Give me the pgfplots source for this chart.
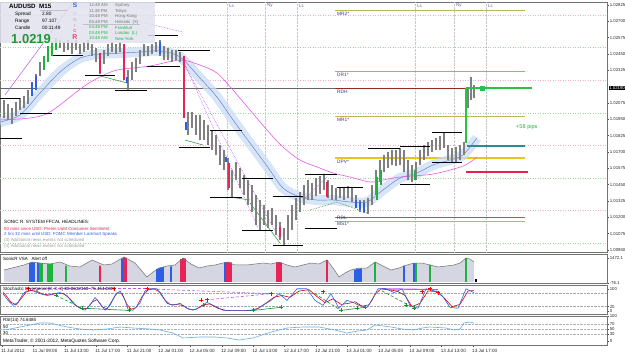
\documentclass[border=0pt]{standalone}
\usepackage{fontspec}
\setmainfont{Liberation Sans}
\usepackage{pgfplots}
\usepackage{pgfplotstable}
\pgfplotsset{compat=1.18}
\newcommand{\fs}[1]{\fontsize{#1}{#1}\selectfont}
\definecolor{mtblue}{RGB}{80,95,200}
\definecolor{bandblue}{RGB}{200,221,243}
\definecolor{mtmag}{RGB}{232,90,232}
\definecolor{olv}{RGB}{190,185,80}
\definecolor{salm}{RGB}{240,135,120}
\definecolor{rdh}{RGB}{140,45,30}
\definecolor{dpv}{RGB}{228,200,20}
\definecolor{rdl}{RGB}{95,95,240}
\definecolor{tealx}{RGB}{40,140,145}
\definecolor{mtred}{RGB}{232,30,75}
\definecolor{mtgreen}{RGB}{40,195,70}
\definecolor{navyx}{RGB}{55,55,125}
\definecolor{purp}{RGB}{185,90,235}
\definecolor{cblue}{RGB}{45,95,230}
\definecolor{cgreen}{RGB}{30,180,60}
\definecolor{cred}{RGB}{232,35,85}
\definecolor{gpink}{RGB}{240,175,195}
\definecolor{ggreen}{RGB}{160,215,160}
\definecolor{panel}{RGB}{226,226,238}
\definecolor{rsiblue}{RGB}{95,175,240}
\definecolor{volfill}{RGB}{214,214,226}
\pgfplotsset{
  mt/.style={scale only axis, width=607pt, xmin=0, xmax=607,
    axis line style={black!55, line width=0.7pt},
    xtick=\empty, ytick pos=right, yticklabel pos=right,
    tick align=outside, major tick length=1.8pt,
    tick style={black!70, line width=0.4pt},
    yticklabel style={font=\fs{4.3}, text=black!85, inner sep=0.8pt}},
  cnd/.style={draw=none, error bars/.cd, y dir=both, y explicit, error mark=none,
    error bar style={draw=#1, line width=1.25pt}},
}
\begin{document}
\pgfplotstableread{
x hi lo
4 1.02098 1.01960
8 1.02067 1.01944
12 1.02036 1.01914
16 1.02082 1.01975
20 1.02113 1.02021
24 1.02128 1.02036
28 1.02174 1.02067
32 1.02235 1.02128
36 1.02297 1.02174
40 1.02388 1.02281
44 1.02434 1.02327
48 1.02511 1.02388
52 1.02541 1.02434
56 1.02572 1.02480
60 1.02557 1.02496
64 1.02541 1.02465
68 1.02557 1.02480
72 1.02541 1.02450
76 1.02557 1.02480
80 1.02526 1.02450
84 1.02541 1.02465
88 1.02557 1.02480
92 1.02526 1.02434
96 1.02496 1.02388
100 1.02434 1.02297
104 1.02480 1.02373
108 1.02526 1.02434
112 1.02541 1.02465
116 1.02526 1.02450
120 1.02541 1.02465
124 1.02526 1.02251
128 1.02327 1.02174
132 1.02388 1.02251
136 1.02419 1.02312
140 1.02480 1.02373
144 1.02526 1.02434
148 1.02511 1.02434
152 1.02526 1.02450
156 1.02541 1.02465
160 1.02557 1.02434
164 1.02511 1.02404
168 1.02496 1.02404
172 1.02480 1.02388
176 1.02480 1.02404
180 1.02465 1.02388
184 1.02434 1.01960
188 1.02006 1.01830
192 1.02006 1.01883
196 1.01983 1.01830
200 1.01983 1.01791
204 1.01944 1.01791
208 1.01906 1.01753
212 1.01868 1.01715
216 1.01830 1.01677
220 1.01753 1.01600
224 1.01715 1.01562
228 1.01654 1.01409
232 1.01562 1.01355
236 1.01623 1.01485
240 1.01577 1.01424
244 1.01523 1.01370
248 1.01485 1.01294
252 1.01447 1.01240
256 1.01370 1.01141
260 1.01332 1.01102
264 1.01294 1.01141
268 1.01255 1.01118
272 1.01271 1.01141
276 1.01217 1.01064
280 1.01164 1.01026
284 1.01118 1.00988
288 1.01217 1.01026
292 1.01294 1.01102
296 1.01347 1.01179
300 1.01393 1.01240
304 1.01447 1.01294
308 1.01485 1.01332
312 1.01462 1.01332
316 1.01500 1.01363
320 1.01516 1.01378
324 1.01523 1.01409
328 1.01485 1.01347
332 1.01447 1.01332
336 1.01424 1.01332
340 1.01432 1.01347
344 1.01424 1.01332
348 1.01439 1.01347
352 1.01424 1.01317
356 1.01370 1.01271
360 1.01332 1.01240
364 1.01332 1.01233
368 1.01347 1.01225
372 1.01447 1.01294
376 1.01562 1.01370
380 1.01638 1.01470
384 1.01677 1.01546
388 1.01700 1.01577
392 1.01715 1.01600
396 1.01715 1.01592
400 1.01730 1.01600
404 1.01715 1.01546
408 1.01638 1.01485
412 1.01600 1.01470
416 1.01623 1.01485
420 1.01715 1.01600
424 1.01753 1.01638
428 1.01776 1.01669
432 1.01791 1.01699
436 1.01807 1.01715
440 1.01822 1.01715
444 1.01853 1.01730
448 1.01753 1.01638
452 1.01730 1.01623
456 1.01738 1.01623
460 1.01753 1.01638
464 1.01776 1.01677
468 1.02189 1.02036
471 1.02274 1.02098
474 1.02212 1.02113
}\tbars
\pgfplotstableread{
x hi lo
100 1.02457 1.02304
124 1.02526 1.02251
184 1.02434 1.01960
229 1.01615 1.01424
280 1.01125 1.01049
327 1.01470 1.01355
}\tred
\pgfplotstableread{
x hi lo
32 1.02235 1.02128
36 1.02281 1.02174
127 1.02274 1.02228
160 1.02541 1.02450
186 1.01929 1.01868
226 1.01661 1.01623
356 1.01332 1.01271
360 1.01317 1.01255
364 1.01309 1.01240
}\tblue
\pgfplotstableread{
x hi lo
44 1.02434 1.02327
48 1.02511 1.02388
52 1.02541 1.02434
56 1.02572 1.02480
377 1.01508 1.01332
381 1.01562 1.01447
415 1.01562 1.01485
}\tgreen
\pgfplotstableread{
x p
0 1.01929
20 1.01983
40 1.02151
60 1.02312
80 1.02419
100 1.02450
120 1.02457
140 1.02465
160 1.02473
180 1.02427
200 1.02266
217 1.02120
233 1.01945
250 1.01768
267 1.01592
283 1.01424
300 1.01355
317 1.01332
333 1.01332
350 1.01317
367 1.01317
383 1.01409
400 1.01500
417 1.01539
433 1.01600
450 1.01638
463 1.01677
477 1.01807
}\tbma
\pgfplotstableread{
x p
0 1.01945
30 1.01960
50 1.02006
83 1.02197
100 1.02274
117 1.02327
150 1.02358
180 1.02404
200 1.02365
217 1.02304
233 1.02174
250 1.02021
267 1.01868
283 1.01738
300 1.01638
317 1.01585
333 1.01539
350 1.01508
370 1.01470
383 1.01485
400 1.01508
433 1.01531
463 1.01592
477 1.01661
}\tmma
\pgfplotstableread{
x v
4 729
12 853
24 1039
32 1224
40 1162
50 1101
60 1224
70 977
80 915
92 1348
104 1039
112 1101
124 1534
135 1162
147 296
153 605
159 853
167 977
175 1039
183 1472
191 1101
199 853
207 977
215 1039
227 1224
235 1039
247 1039
255 1101
263 1162
271 1101
279 1224
287 1039
295 915
303 1039
311 1162
319 1101
327 1348
333 853
339 296
345 544
351 729
359 853
367 853
375 1224
383 977
391 729
399 853
407 1039
414 1162
422 1162
430 1039
438 915
446 977
454 1039
460 1162
466 1472
470 1410
474 1224
}\tvol
\pgfplotstableread{
x v
30 1150
32 1224
34 1200
38 1180
122 1450
157 800
159 853
161 870
163 900
171 950
225 1224
355 760
357 790
359 820
361 830
404 1000
414 1162
}\tvb
\pgfplotstableread{
x v
40 1162
42 1150
48 1120
50 1101
52 1120
66 1000
375 1224
416 1162
430 1039
466 1472
}\tvg
\pgfplotstableread{
x v
100 1000
124 1534
126 1500
181 1400
183 1472
185 1450
227 1224
229 1230
231 1200
277 1200
279 1224
281 1200
327 1348
}\tvr
\pgfplotstableread{
x v
3 78
8 48
13 26
18 39
23 78
27 91
33 91
40 78
47 70
53 78
60 83
67 70
73 35
80 13
85 4
90 26
95 61
100 35
105 4
110 26
115 70
120 91
125 48
128 9
133 4
140 35
145 91
150 100
157 100
163 61
167 35
173 26
180 35
187 13
193 4
200 17
207 39
215 22
223 4
231 2
239 2
247 2
255 4
263 26
271 48
279 78
287 48
297 100
307 100
315 48
323 26
331 78
339 13
347 48
353 39
359 26
367 17
372 48
378 100
386 100
394 83
402 100
410 26
418 13
426 100
434 91
442 70
450 17
458 13
466 100
474 83
}\tsb
\pgfplotstableread{
x v
3 85
6 70
11 40
16 28
21 55
26 85
31 93
37 88
43 76
50 72
56 79
63 80
70 55
76 24
82 10
87 12
92 40
97 52
102 20
107 10
112 45
117 82
122 80
127 30
131 8
136 15
142 65
148 95
154 100
160 85
165 50
170 30
176 30
183 25
189 8
196 8
203 28
210 32
218 12
226 3
234 2
242 2
250 3
258 12
266 36
274 62
282 70
290 62
299 90
309 96
317 65
325 38
333 55
341 30
349 35
355 42
362 22
369 28
375 75
381 100
389 95
397 90
405 70
412 20
420 35
428 90
437 88
445 55
452 20
460 30
468 90
474 92
}\tsr
\pgfplotstableread{
x v
3 46
10 50
20 58
30 66
40 74
50 74
58 66
67 58
80 50
93 46
107 50
120 58
133 54
150 50
160 46
173 34
183 14
200 18
215 18
227 14
239 6
253 14
262 26
271 38
287 54
303 58
319 58
335 46
347 34
358 42
367 46
375 66
391 58
402 50
414 46
422 54
430 58
446 54
454 46
460 50
464 74
470 78
474 74
}\trsi
\begin{tikzpicture}[x=1pt,y=1pt]
\useasboundingbox (0pt,0pt) rectangle (625pt,-354pt);
% ================= MAIN PRICE PANEL =================
\begin{axis}[mt, at={(0pt,-2pt)}, anchor=north west, height=250pt,
  ymin=1.00934, ymax=1.02848, unbounded coords=jump,
  ytick={1.0095,1.01075,1.012,1.01325,1.0145,1.01575,1.017,1.01825,1.0195,1.02075,1.02325,1.0245,1.02575,1.027,1.02825},
  yticklabels={1.00950,1.01075,1.01200,1.01325,1.01450,1.01575,1.01700,1.01825,1.01950,1.02075,1.02325,1.02450,1.02575,1.02700,1.02825}]
% round-number grid
\addplot[gpink, dotted, line width=0.5pt] coordinates {(0,1.0275)(607,1.0275)};
\addplot[gpink, dotted, line width=0.5pt] coordinates {(0,1.0225)(607,1.0225)};
\addplot[gpink, dotted, line width=0.5pt] coordinates {(0,1.0175)(607,1.0175)};
\addplot[gpink, dotted, line width=0.5pt] coordinates {(0,1.0125)(607,1.0125)};
\addplot[ggreen, dotted, line width=0.5pt] coordinates {(0,1.025)(607,1.025)};
\addplot[ggreen, dotted, line width=0.5pt] coordinates {(0,1.020)(607,1.020)};
\addplot[ggreen, dotted, line width=0.5pt] coordinates {(0,1.015)(607,1.015)};
\addplot[ggreen, dotted, line width=0.5pt] coordinates {(0,1.010)(607,1.010)};
% session lines
\addplot[black!22, densely dotted, line width=0.4pt] coordinates {(227,1.00934)(227,1.02848)(227,nan)(265,1.00934)(265,1.02848)(265,nan)(297,1.00934)(297,1.02848)(297,nan)(415,1.00934)(415,1.02848)(415,nan)(454,1.00934)(454,1.02848)(454,nan)(486,1.00934)(486,1.02848)};
% previous close line
\addplot[black!60, line width=0.6pt] coordinates {(0,1.02189)(335,1.02189)};
% pivot levels
\addplot[olv, line width=0.8pt] coordinates {(335,1.02786)(525,1.02786)};
\addplot[salm, line width=0.8pt] coordinates {(335,1.02319)(525,1.02319)};
\addplot[rdh, line width=0.8pt] coordinates {(335,1.02189)(467,1.02189)};
\addplot[olv, line width=0.8pt] coordinates {(335,1.01975)(525,1.01975)};
\addplot[dpv, line width=1.1pt] coordinates {(335,1.01654)(525,1.01654)};
\addplot[rdl, line width=0.8pt] coordinates {(335,1.01202)(525,1.01202)};
\addplot[olv, line width=0.8pt] coordinates {(335,1.01171)(525,1.01171)};
% moving averages
\addplot[bandblue, line width=10pt, opacity=0.75, smooth] table[x=x,y=p] {\tbma};
\addplot[mtblue!85, line width=0.45pt, smooth] table[x=x,y=p] {\tbma};
\addplot[mtmag, line width=0.6pt, smooth] table[x=x,y=p] {\tmma};
% trend lines
\addplot[purp, line width=0.5pt] coordinates {(5,1.02136)(72,1.02832)};
\addplot[purp, densely dotted, line width=0.6pt] coordinates {(183,1.02404)(258,1.01118)};
\addplot[purp, densely dotted, line width=0.6pt] coordinates {(183,1.02388)(280,1.01026)};
\addplot[purp, densely dotted, line width=0.6pt] coordinates {(133,1.02710)(183,1.02618)};
\addplot[purp, densely dotted, line width=0.6pt] coordinates {(303,1.01332)(327,1.01508)};
\addplot[cgreen!80!black, line width=0.5pt] coordinates {(97,1.02289)(127,1.02228)};
\addplot[cgreen!80!black, line width=0.5pt] coordinates {(185,1.01791)(203,1.01753)};
\addplot[cgreen!80!black, line width=0.5pt] coordinates {(230,1.01355)(250,1.01332)};
\addplot[cgreen!80!black, line width=0.5pt] coordinates {(250,1.01309)(280,1.01003)};
\addplot[cgreen!80!black, densely dotted, line width=0.6pt] coordinates {(310,1.01255)(337,1.01317)(367,1.01233)};
% candles
\addplot[cnd=black!50] table[x=x, y expr={(\thisrow{hi}+\thisrow{lo})/2}, y error expr={(\thisrow{hi}-\thisrow{lo})/2}] {\tbars};
\addplot[cnd=cred] table[x=x, y expr={(\thisrow{hi}+\thisrow{lo})/2}, y error expr={(\thisrow{hi}-\thisrow{lo})/2}] {\tred};
\addplot[cnd=cblue] table[x=x, y expr={(\thisrow{hi}+\thisrow{lo})/2}, y error expr={(\thisrow{hi}-\thisrow{lo})/2}] {\tblue};
\addplot[cnd=cgreen] table[x=x, y expr={(\thisrow{hi}+\thisrow{lo})/2}, y error expr={(\thisrow{hi}-\thisrow{lo})/2}] {\tgreen};
% support / resistance segments
\addplot[black, line width=0.8pt] coordinates {
(0,1.02113)(20,1.02113)(20,nan)
(20,1.01998)(52,1.01998)(52,nan)
(0,1.01807)(22,1.01807)(22,nan)
(53,1.02442)(83,1.02442)(83,nan)
(85,1.02289)(115,1.02289)(115,nan)
(115,1.02174)(147,1.02174)(147,nan)
(148,1.02595)(178,1.02595)(178,nan)
(147,1.02358)(180,1.02358)(180,nan)
(178,1.02480)(210,1.02480)(210,nan)
(179,1.01738)(210,1.01738)(210,nan)
(210,1.01868)(242,1.01868)(242,nan)
(210,1.01355)(242,1.01355)(242,nan)
(242,1.01500)(273,1.01500)(273,nan)
(242,1.01102)(273,1.01102)(273,nan)
(273,1.00988)(303,1.00988)(303,nan)
(273,1.01363)(303,1.01363)(303,nan)
(305,1.01531)(337,1.01531)(337,nan)
(305,1.01118)(337,1.01118)(337,nan)
(337,1.01432)(363,1.01432)(363,nan)
(368,1.01730)(400,1.01730)(400,nan)
(400,1.01745)(430,1.01745)(430,nan)
(400,1.01454)(430,1.01454)(430,nan)
(432,1.01853)(462,1.01853)(462,nan)
(432,1.01623)(462,1.01623)(462,nan)
(83,1.02679)(140,1.02679)(140,nan)
(40,1.02786)(67,1.02786)};
% signal lines
\addplot[tealx, line width=2.4pt] coordinates {(467,1.01745)(525,1.01745)};
\addplot[mtred, line width=2.4pt] coordinates {(466,1.01546)(528,1.01546)};
\addplot[mtgreen, line width=1.3pt] coordinates {(466,1.01768)(466,1.02189)};
\addplot[mtgreen, line width=2.4pt] coordinates {(466,1.02189)(532,1.02189)};
\addplot[only marks, mark=square*, mark size=2pt, mtgreen] coordinates {(482,1.02189)};
\end{axis}
% ================= VSA PANEL =================
\begin{axis}[mt, at={(0pt,-254pt)}, anchor=north west, height=29pt,
  ymin=-76.1, ymax=1720, ytick={-76.1,1472.1}, yticklabels={-76.1,1472.1}]
\addplot[fill=volfill, draw=none] table[x=x,y=v] {\tvol} \closedcycle;
\addplot[ybar, bar width=1.6pt, bar shift=0pt, fill=cblue, draw=none] table[x=x,y=v] {\tvb};
\addplot[ybar, bar width=1.6pt, bar shift=0pt, fill=cgreen, draw=none] table[x=x,y=v] {\tvg};
\addplot[ybar, bar width=1.6pt, bar shift=0pt, fill=cred, draw=none] table[x=x,y=v] {\tvr};
\addplot[ybar, bar width=1.6pt, bar shift=0pt, fill=black, draw=none] coordinates {(476,150)};
\addplot[black!55, line width=0.5pt] table[x=x,y=v] {\tvol};
\end{axis}
% ================= STOCHASTIC PANEL =================
\begin{axis}[mt, at={(0pt,-285pt)}, anchor=north west, height=29pt,
  ymin=-13, ymax=117, ytick={0,20,100}, yticklabels={0,20,100}]
\addplot[black!35, densely dotted, line width=0.4pt] coordinates {(0,80)(607,80)};
\addplot[black!35, densely dotted, line width=0.4pt] coordinates {(0,20)(607,20)};
\addplot[purp, densely dashed, line width=0.6pt] coordinates {(28,100)(147,100)};
\addplot[purp, densely dashed, line width=0.6pt] coordinates {(147,100)(271,78)};
\addplot[purp, densely dashed, line width=0.6pt] coordinates {(201,48)(271,78)};
\addplot[purp, line width=1.2pt] coordinates {(382,100)(438,96)};
\addplot[cgreen!80!black, densely dashed, line width=0.6pt] coordinates {(56,70)(82,13)};
\addplot[cgreen!80!black, line width=0.6pt] coordinates {(82,13)(130,3)};
\addplot[cgreen!80!black, line width=0.6pt] coordinates {(253,3)(281,17)};
\addplot[cgreen!80!black, densely dashed, line width=0.6pt] coordinates {(315,78)(341,3)};
\addplot[cgreen!80!black, line width=0.6pt] coordinates {(341,3)(365,17)};
\addplot[cgreen!80!black, densely dashed, line width=0.6pt] coordinates {(382,91)(414,13)};
\addplot[red!85!black, line width=0.6pt] table[x=x,y=v] {\tsr};
\addplot[cblue, line width=0.6pt] table[x=x,y=v] {\tsb};
\addplot[only marks, mark=+, mark size=2pt, red, line width=0.7pt] coordinates {(28,100)(114,100)(147,100)(201,48)(207,52)(271,78)(323,87)(422,87)(430,100)(438,83)};
\addplot[only marks, mark=+, mark size=2pt, cgreen!80!black, line width=0.7pt] coordinates {(56,70)(82,13)(129,4)(203,26)(253,3)(281,17)(341,3)(357,13)(365,17)(406,26)(414,13)};
\end{axis}
% ================= RSI PANEL =================
\begin{axis}[mt, at={(0pt,-316pt)}, anchor=north west, height=29pt,
  ymin=-14, ymax=102, ytick={0,30,50,70,100}, yticklabels={0,30,50,70,100},
  xtick={2,33.4,64.8,96.2,127.6,159,190.4,221.8,253.2,284.6,316,347.4,378.8,410.2,441.6,473},
  xticklabels={11 Jul 2012,11 Jul 09:00,11 Jul 13:00,11 Jul 17:00,11 Jul 21:00,12 Jul 01:00,12 Jul 05:00,12 Jul 09:00,12 Jul 13:00,12 Jul 17:00,12 Jul 21:00,13 Jul 01:00,13 Jul 05:00,13 Jul 09:00,13 Jul 13:00,13 Jul 17:00},
  xtick pos=lower, xticklabel pos=lower,
  xticklabel style={font=\fs{4.6}, anchor=north west, inner sep=0pt, xshift=-1pt, yshift=-2pt, text=black!85}]
\addplot[black!30, densely dotted, line width=0.4pt] coordinates {(0,70)(607,70)};
\addplot[black!30, densely dotted, line width=0.4pt] coordinates {(0,50)(607,50)};
\addplot[black!30, densely dotted, line width=0.4pt] coordinates {(0,30)(607,30)};
\addplot[rsiblue, line width=0.6pt] table[x=x,y=v] {\trsi};
\end{axis}
% ================= OVERLAY TEXT =================
% info panel
\fill[panel, opacity=0.85] (0pt,-2pt) rectangle (155pt,-43pt);
\node[anchor=west, inner sep=0pt, font=\fs{6.2}\bfseries] at (9pt,-6.5pt) {AUDUSD\ \ M15};
\node[anchor=west, inner sep=0pt, font=\fs{4.8}] at (15pt,-14pt) {Spread};
\node[anchor=west, inner sep=0pt, font=\fs{4.8}] at (42pt,-14pt) {2.80};
\node[anchor=west, inner sep=0pt, font=\fs{4.8}] at (15pt,-21pt) {Range};
\node[anchor=west, inner sep=0pt, font=\fs{4.8}] at (42pt,-21pt) {97.107};
\node[anchor=west, inner sep=0pt, font=\fs{4.8}] at (15pt,-28pt) {Candle};
\node[anchor=west, inner sep=0pt, font=\fs{4.8}] at (42pt,-28pt) {00:11:49};
\node[anchor=west, inner sep=0pt, font=\fs{13}\bfseries, text={rgb,255:red,35;green,150;blue,55}] at (11pt,-39pt) {1.0219};
\node[inner sep=0pt, font=\fs{6.5}\bfseries, text=cblue] at (75pt,-5pt) {S};
\node[inner sep=0pt, font=\fs{4.5}, text=cblue!40] at (75pt,-14pt) {O};
\node[inner sep=0pt, font=\fs{4.5}, text=black!35] at (75pt,-20pt) {N};
\node[inner sep=0pt, font=\fs{4.5}, text=black!45] at (75pt,-25.5pt) {I};
\node[inner sep=0pt, font=\fs{4.5}, text=mtred] at (75pt,-31pt) {C};
\node[inner sep=0pt, font=\fs{7}\bfseries, text=mtred!85] at (75pt,-37.5pt) {R};
\foreach \t/\n/\yy/\c in {12:48 AM/Sydney/5/black!55, 11:48 PM/Tokyo/11/black!55, 10:48 PM/Hong Kong/16.5/black!55, 05:48 PM/Helsinki\ \ (X)/22/black!55, 04:48 PM/Frankfurt/27.5/cgreen, 03:48 PM/London\ \ (L)/33/cgreen, 10:48 AM/New York/38.5/cgreen}{
  \node[anchor=west, inner sep=0pt, font=\fs{4.3}, text=\c] at (89pt,-\yy pt) {\t};
  \node[anchor=west, inner sep=0pt, font=\fs{4.3}, text=\c] at (115pt,-\yy pt) {\n};
}
% session labels
\foreach \xx/\s in {229/Ls,267/Ny,299/Lc,417/Ls,456/Ny,488/Lc}{
  \node[anchor=west, inner sep=0pt, font=\fs{4.5}, text=navyx!80] at (\xx pt,-5.5pt) {\s};
}
% pivot labels
\foreach \yy/\s in {14/MR2*,74.5/DR1*,92/RDH,120/MR1*,162/DPV*,217.5/RDL,223.5/MS1*}{
  \node[anchor=west, inner sep=0pt, font=\fs{4.8}, text=navyx] at (337pt,-\yy pt) {\s};
}
\node[anchor=west, inner sep=0pt, font=\fs{5.6}, text=mtgreen!90!black] at (516pt,-127pt) {+58 pips};
% current price box
\node[anchor=west, fill=black, text=white, inner sep=0.6pt, font=\fs{4.3}] at (608.5pt,-88pt) {1.02190};
% news block
\node[anchor=west, inner sep=0pt, font=\fs{4.6}] at (4pt,-222pt) {SONIC R. SYSTEM FFCAL HEADLINES:};
\node[anchor=west, inner sep=0pt, font=\fs{4.4}, text=mtred] at (4pt,-228.5pt) {50 mins since USD: Prelim UoM Consumer Sentiment};
\node[anchor=west, inner sep=0pt, font=\fs{4.4}, text=cblue] at (4pt,-234.5pt) {2 hrs 32 mins until USD: FOMC Member Lockhart Speaks};
\node[anchor=west, inner sep=0pt, font=\fs{4.4}, text=black!40] at (4pt,-240.5pt) {(3) Additional news events not scheduled};
\node[anchor=west, inner sep=0pt, font=\fs{4.4}, text=black!40] at (4pt,-246.5pt) {(4) Additional news events not scheduled};
% sub-panel labels
\node[anchor=west, inner sep=0pt, font=\fs{4.5}] at (3pt,-258.5pt) {SonicR VSA\ \ \ Alert off};
\node[anchor=west, inner sep=0pt, font=\fs{4.5}] at (3pt,-289pt) {Stochastic Divergence(8, 3, 3) 80.8632348\ \ 75.4544835};
\node[anchor=west, inner sep=0pt, font=\fs{4.5}] at (3pt,-320pt) {RSI(14) 74.6485};
\node[anchor=west, inner sep=0pt, font=\fs{4.3}] at (3pt,-327.5pt) {50};
\node[anchor=west, inner sep=0pt, font=\fs{4.3}] at (3pt,-333pt) {30};
\node[anchor=west, inner sep=0pt, font=\fs{4.8}] at (3pt,-341pt) {MetaTrader, © 2001-2012, MetaQuotes Software Corp.};
\end{tikzpicture}
\end{document}
